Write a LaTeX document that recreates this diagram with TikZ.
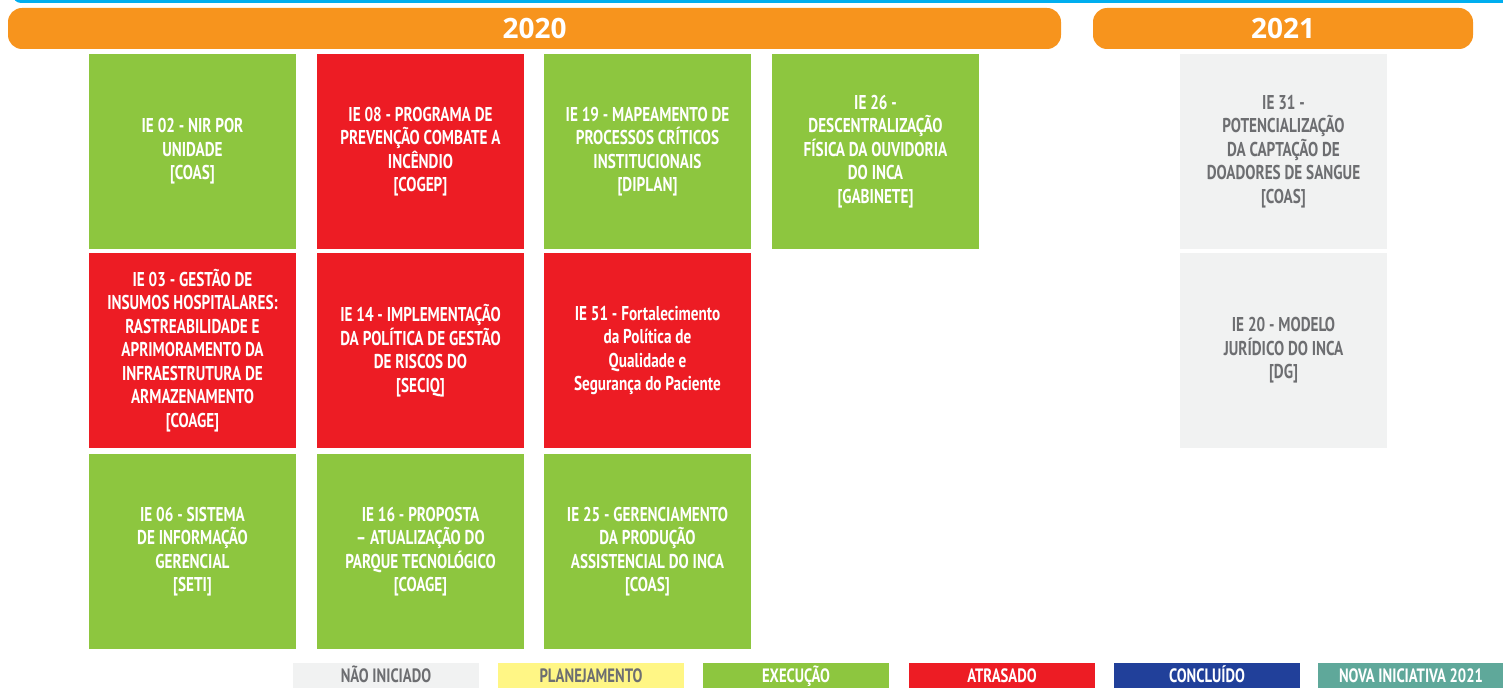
\documentclass[tikz,border=0pt]{standalone}
\usepackage{fontspec}
\setmainfont{PT Sans}[FakeStretch=0.76]
\newfontfamily\yearfont{Open Sans}
\definecolor{barorange}{HTML}{F7941D}
\definecolor{topcyan}{HTML}{00AEEF}
\definecolor{execgreen}{HTML}{8DC63F}
\definecolor{latered}{HTML}{ED1C24}
\definecolor{idlegray}{HTML}{F1F2F2}
\definecolor{planyellow}{HTML}{FFF685}
\definecolor{donenavy}{HTML}{21409A}
\definecolor{newteal}{HTML}{5FA89A}
\definecolor{textgray}{HTML}{6D6E71}
\tikzset{
  iebox/.style={minimum width=155.25pt, minimum height=146.25pt, inner sep=0pt,
    align=center, text=white, font=\fontsize{15}{17.6}\selectfont\bfseries},
  exec/.style={iebox, fill=execgreen},
  late/.style={iebox, fill=latered},
  idle/.style={iebox, fill=idlegray, text=textgray},
  legendbox/.style={minimum width=139.5pt, minimum height=18.75pt, inner sep=0pt,
    text height=10.5pt, text depth=0pt,
    text=white, font=\fontsize{14.5}{16}\selectfont\bfseries},
  yearlabel/.style={text=white, font=\yearfont\fontsize{21}{24}\selectfont\bfseries}
}
\begin{document}
\begin{tikzpicture}[x=0.75pt,y=-0.75pt]
  \useasboundingbox (0,0) rectangle (1503,688);
  \begin{scope}
    \clip (0,0) rectangle (1503,688);
    \fill[topcyan, rounded corners=6] (13,-20) rectangle (1520,3);
  \end{scope}
  \fill[barorange, rounded corners=10.5pt] (8,8) rectangle (1061,49);
  \fill[barorange, rounded corners=10.5pt] (1093,8) rectangle (1473,49);
  \node[yearlabel] (y2020) at (534.5,28.5) {2020};
  \node[yearlabel] (y2021) at (1283,28.5) {2021};

  \node[exec] (ie02) at (192.5,151.5) {IE 02 - NIR POR\\UNIDADE\\{[COAS]}};
  \node[late] (ie08) at (420.5,151.5) {IE 08 - PROGRAMA DE\\PREVENÇÃO COMBATE A\\INCÊNDIO\\{[COGEP]}};
  \node[exec] (ie19) at (647.5,151.5) {IE 19 - MAPEAMENTO DE\\PROCESSOS CRÍTICOS\\INSTITUCIONAIS\\{[DIPLAN]}};
  \node[exec] (ie26) at (875.5,151.5) {IE 26 -\\DESCENTRALIZAÇÃO\\FÍSICA DA OUVIDORIA\\DO INCA\\{[GABINETE]}};
  \node[idle] (ie31) at (1283.5,151.5) {IE 31 -\\POTENCIALIZAÇÃO\\DA CAPTAÇÃO DE\\DOADORES DE SANGUE\\{[COAS]}};

  \node[late] (ie03) at (192.5,350.5) {IE 03 - GESTÃO DE\\INSUMOS HOSPITALARES:\\RASTREABILIDADE E\\APRIMORAMENTO DA\\INFRAESTRUTURA DE\\ARMAZENAMENTO\\{[COAGE]}};
  \node[late] (ie14) at (420.5,350.5) {IE 14 - IMPLEMENTAÇÃO\\DA POLÍTICA DE GESTÃO\\DE RISCOS DO\\{[SECIQ]}};
  \node[late] (ie51) at (647.5,350.5) {IE 51 - Fortalecimento\\da Política de\\Qualidade e\\Segurança do Paciente};
  \node[idle] (ie20) at (1283.5,350.5) {IE 20 - MODELO\\JURÍDICO DO INCA\\{[DG]}};

  \node[exec] (ie06) at (192.5,551.5) {IE 06 - SISTEMA\\DE INFORMAÇÃO\\GERENCIAL\\{[SETI]}};
  \node[exec] (ie16) at (420.5,551.5) {IE 16 - PROPOSTA\\– ATUALIZAÇÃO DO\\PARQUE TECNOLÓGICO\\{[COAGE]}};
  \node[exec] (ie25) at (647.5,551.5) {IE 25 - GERENCIAMENTO\\DA PRODUÇÃO\\ASSISTENCIAL DO INCA\\{[COAS]}};

  \node[legendbox, fill=idlegray, text=textgray] (lg1) at (386,675.5) {NÃO INICIADO};
  \node[legendbox, fill=planyellow, text=textgray] (lg2) at (591,675.5) {PLANEJAMENTO};
  \node[legendbox, fill=execgreen] (lg3) at (796,675.5) {EXECUÇÃO};
  \node[legendbox, fill=latered] (lg4) at (1002,675.5) {ATRASADO};
  \node[legendbox, fill=donenavy] (lg5) at (1207,675.5) {CONCLUÍDO};
  \node[legendbox, fill=newteal] (lg6) at (1411,675.5) {NOVA INICIATIVA 2021};
\end{tikzpicture}
\end{document}
